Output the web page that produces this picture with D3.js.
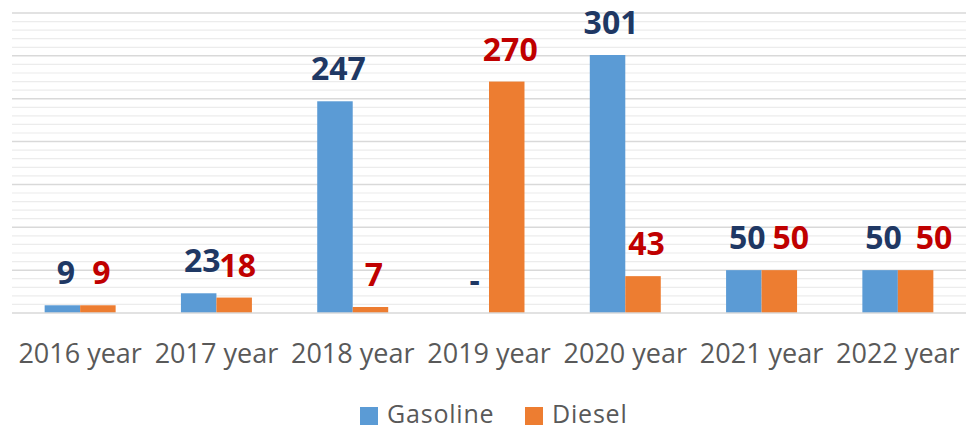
<!DOCTYPE html>
<html>
<head>
<meta charset="utf-8">
<script src="https://cdn.jsdelivr.net/npm/d3@7"></script>
<style>
  html, body { margin: 0; padding: 0; background: #fff; }
  svg { display: block; }
</style>
</head>
<body>
<svg id="chart" width="966" height="430"></svg>
<script>
// ---- data ----
const categories = ["2016 year", "2017 year", "2018 year", "2019 year", "2020 year", "2021 year", "2022 year"];
const seriesNames = ["Gasoline", "Diesel"];
const gasoline = [9, 23, 247, 0, 301, 50, 50];
const diesel = [9, 18, 7, 270, 43, 50, 50];
const yMax = 350;
const majorStep = 50;
const minorStep = 10;

// ---- style / layout ----
const W = 966, H = 430;
const plot = { left: 12, right: 966, top: 13, bottom: 313 };
const colors = { Gasoline: "#5B9BD5", Diesel: "#ED7D31" };
const labelColors = { Gasoline: "#1F3864", Diesel: "#C00000" };
// manual label nudges (px) for a few diesel labels, as in the original
const dieselNudge = { "2021 year": 8, "2022 year": 15 };

const svg = d3.select("#chart");

const x0 = d3.scaleBand().domain(categories).range([plot.left, plot.right]).padding(0);
const x1 = d3.scaleBand().domain(seriesNames).range([0, x0.bandwidth()]).paddingInner(0).paddingOuter(0.92);
const y = d3.scaleLinear().domain([0, yMax]).range([plot.bottom, plot.top]);

// minor grid
const minorTicks = d3.range(0, yMax + 0.001, minorStep).filter(v => v % majorStep !== 0);
svg.append("g").selectAll("line").data(minorTicks).join("line")
  .attr("x1", plot.left).attr("x2", plot.right)
  .attr("y1", d => y(d)).attr("y2", d => y(d))
  .attr("stroke", "#ececec").attr("stroke-width", 1.2);

// major grid
const majorTicks = d3.range(majorStep, yMax + 0.001, majorStep);
svg.append("g").selectAll("line").data(majorTicks).join("line")
  .attr("x1", plot.left).attr("x2", plot.right)
  .attr("y1", d => y(d)).attr("y2", d => y(d))
  .attr("stroke", "#d9d9d9").attr("stroke-width", 1.5);

// data rows
const rows = categories.map((c, i) => ({ cat: c, Gasoline: gasoline[i], Diesel: diesel[i] }));

const groups = svg.append("g").selectAll("g").data(rows).join("g")
  .attr("transform", d => `translate(${x0(d.cat)},0)`);

groups.selectAll("rect").data(d => seriesNames.map(s => ({ s, v: d[s], cat: d.cat }))).join("rect")
  .attr("x", d => x1(d.s))
  .attr("width", x1.bandwidth())
  .attr("y", d => y(d.v))
  .attr("height", d => y(0) - y(d.v))
  .attr("fill", d => colors[d.s]);

// baseline axis
svg.append("line")
  .attr("x1", plot.left).attr("x2", plot.right)
  .attr("y1", y(0)).attr("y2", y(0))
  .attr("stroke", "#d9d9d9").attr("stroke-width", 1.5);

// value labels
groups.selectAll("text.val").data(d => seriesNames.map(s => ({ s, v: d[s], cat: d.cat }))).join("text")
  .attr("class", "val")
  .attr("x", d => x1(d.s) + x1.bandwidth() / 2 + 3.5 + (d.s === "Diesel" ? (dieselNudge[d.cat] || 0) : 0))
  .attr("y", d => y(d.v) - 21)
  .attr("text-anchor", "middle")
  .attr("font-family", "'Open Sans', sans-serif")
  .attr("font-weight", "bold")
  .attr("font-size", 32)
  .attr("fill", d => labelColors[d.s])
  .text(d => d.v === 0 ? "-" : d.v);

// x axis labels
const xAxis = d3.axisBottom(x0).tickSize(0).tickPadding(0);
const gx = svg.append("g").attr("transform", `translate(0,${plot.bottom})`).call(xAxis);
gx.select(".domain").remove();
gx.selectAll("text")
  .attr("dy", null)
  .attr("y", 50)
  .attr("font-family", "'Open Sans', sans-serif")
  .attr("font-size", 27)
  .attr("fill", "#595959");

// legend
const legendItems = [
  { s: "Gasoline", x: 360 },
  { s: "Diesel", x: 525 }
];
const lg = svg.append("g").selectAll("g").data(legendItems).join("g")
  .attr("transform", d => `translate(${d.x},407)`);
lg.append("rect").attr("width", 18).attr("height", 18).attr("fill", d => colors[d.s]);
lg.append("text")
  .attr("x", 27).attr("y", 16)
  .attr("font-family", "'Open Sans', sans-serif")
  .attr("font-size", 25)
  .attr("letter-spacing", 0.8)
  .attr("fill", "#595959")
  .text(d => d.s);
</script>
</body>
</html>
